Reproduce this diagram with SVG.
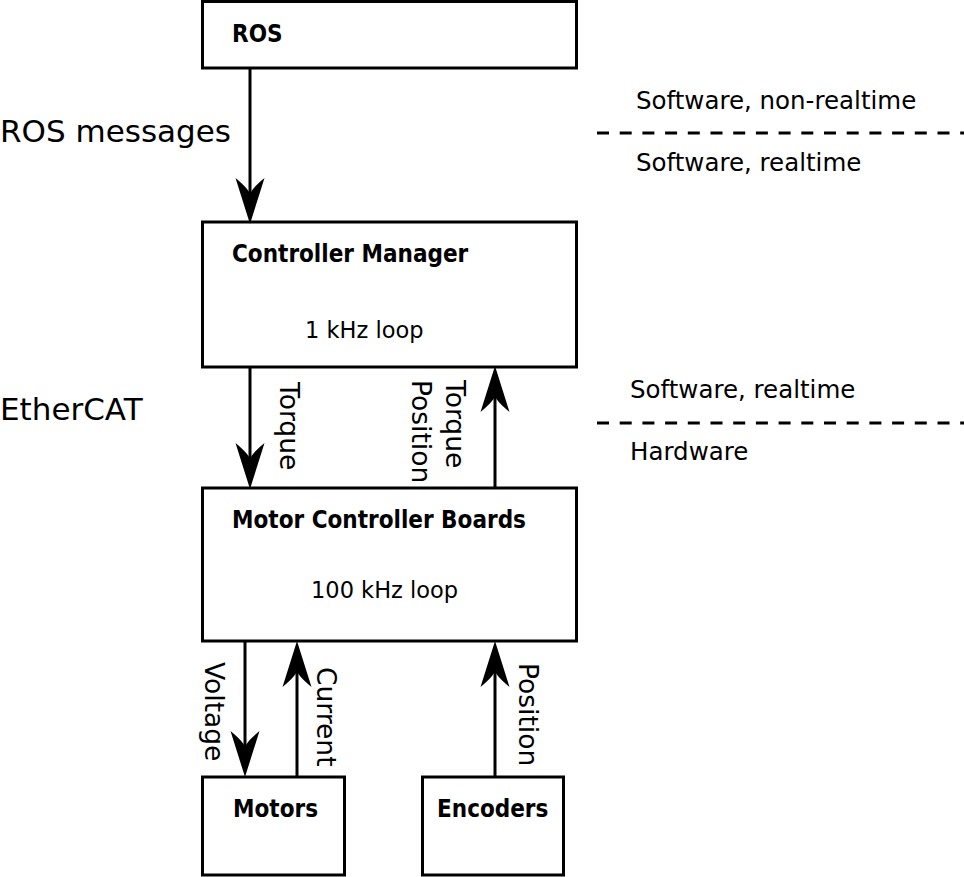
<svg xmlns="http://www.w3.org/2000/svg" width="964" height="877" viewBox="0 0 964 877">
<style>
.box{fill:#fff;stroke:#000;stroke-width:3}
.title{font-family:"DejaVu Sans Condensed","DejaVu Sans",sans-serif;font-stretch:condensed;font-weight:bold;font-size:24px;fill:#000}
.sub{font-family:"DejaVu Sans",sans-serif;font-size:22.5px;fill:#000}
.lbl{font-family:"DejaVu Sans",sans-serif;font-size:24.5px;fill:#000}
.rot{font-family:"DejaVu Sans",sans-serif;font-size:26.5px;fill:#000}
.big{font-family:"DejaVu Sans",sans-serif;font-size:31px;fill:#000}
.line{stroke:#000;stroke-width:3;fill:none}
.dash{stroke:#000;stroke-width:3;fill:none;stroke-dasharray:12 10.7}
</style>
<defs>
<path id="ahd" d="M0,0 L-14.5,-46 Q0,-34 0,-29 Q0,-34 14.5,-46 Z" fill="#000"/>
</defs>
<g id="ros"><rect class="box" x="202.5" y="1.5" width="374" height="66.5"/><text class="title" x="232" y="42">ROS</text></g>
<g id="controller-manager"><rect class="box" x="202.5" y="222" width="374" height="145"/><text class="title" x="232" y="262">Controller Manager</text><text class="sub" x="305" y="338">1 kHz loop</text></g>
<g id="motor-controller-boards"><rect class="box" x="202.5" y="488" width="374" height="153"/><text class="title" x="232" y="528">Motor Controller Boards</text><text class="sub" x="311" y="598">100 kHz loop</text></g>
<g id="motors"><rect class="box" x="202.5" y="777" width="142" height="98"/><text class="title" x="233" y="817">Motors</text></g>
<g id="encoders"><rect class="box" x="422.5" y="777" width="141" height="98"/><text class="title" x="437" y="817">Encoders</text></g>
<g id="connectors">
<line class="line" x1="250" y1="68" x2="250" y2="200"/><use href="#ahd" transform="translate(250,224)"/>
<line class="line" x1="250" y1="367" x2="250" y2="465"/><use href="#ahd" transform="translate(250,489)"/>
<line class="line" x1="495" y1="488" x2="495" y2="390"/><use href="#ahd" transform="translate(495,366) rotate(180)"/>
<line class="line" x1="245" y1="641" x2="245" y2="755"/><use href="#ahd" transform="translate(245,777)"/>
<line class="line" x1="297" y1="777" x2="297" y2="665"/><use href="#ahd" transform="translate(297,641) rotate(180)"/>
<line class="line" x1="495" y1="777" x2="495" y2="665"/><use href="#ahd" transform="translate(495,641) rotate(180)"/>
</g>
<g id="labels">
<text class="big" x="0" y="142">ROS messages</text>
<text class="big" x="0" y="420">EtherCAT</text>
<text class="rot" transform="translate(280,382) rotate(90)">Torque</text>
<text class="rot" transform="translate(446,380) rotate(90)">Torque</text>
<text class="rot" transform="translate(412,380) rotate(90)">Position</text>
<text class="rot" transform="translate(205,662) rotate(90)">Voltage</text>
<text class="rot" transform="translate(317,667) rotate(90)">Current</text>
<text class="rot" transform="translate(519,663) rotate(90)">Position</text>
</g>
<g id="layers">
<text class="lbl" x="636" y="109">Software, non-realtime</text>
<line class="dash" x1="597" y1="133" x2="964" y2="133"/>
<text class="lbl" x="636" y="171">Software, realtime</text>
<text class="lbl" x="630" y="398">Software, realtime</text>
<line class="dash" x1="597" y1="423" x2="964" y2="423"/>
<text class="lbl" x="630" y="460">Hardware</text>
</g>
</svg>
